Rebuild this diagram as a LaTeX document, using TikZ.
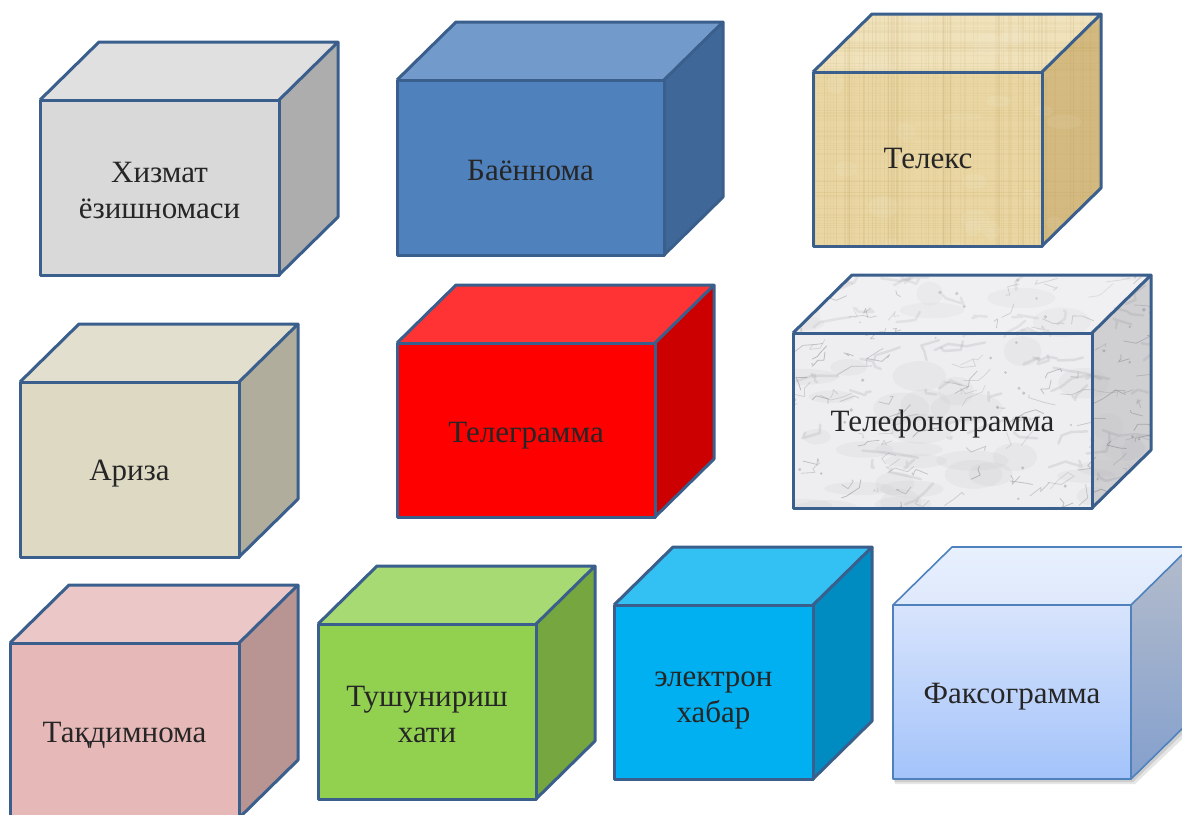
\documentclass[tikz,border=0pt]{standalone}
\usepackage{fontspec}
\setmainfont{Liberation Serif}
\usetikzlibrary{calc}

\definecolor{edge}{HTML}{3A5F8C}
\definecolor{edgelight}{HTML}{4F81BD}
\definecolor{txt}{HTML}{262626}

\tikzset{
  edgeline/.style={draw=edge, line width=3pt, line join=round},
  lbl/.style={font=\fontsize{31}{36}\selectfont, text=txt, align=center,
              anchor=base, inner sep=0pt},
}

% faces of a box: #1 name, #2 left, #3 top, #4 right, #5 bottom,
% #6 front options, #7 top options, #8 side options
\newcommand\cubefaces[8]{%
  \coordinate (#1-a) at (#2,#3);
  \coordinate (#1-b) at (#4,#3);
  \coordinate (#1-c) at (#4,#5);
  \coordinate (#1-d) at (#2,#5);
  \coordinate (#1-e) at ($(#1-a)+(59,-58)$);
  \coordinate (#1-f) at ($(#1-b)+(59,-58)$);
  \coordinate (#1-g) at ($(#1-c)+(59,-58)$);
  \path[#6] (#1-a) rectangle (#1-c);
  \path[#7] (#1-a) -- (#1-e) -- (#1-f) -- (#1-b) -- cycle;
  \path[#8] (#1-b) -- (#1-f) -- (#1-g) -- (#1-c) -- cycle;
}
% outline of a box: #1 name, #2 line options
\newcommand\cubeedges[2]{%
  \draw[#2] (#1-a) rectangle (#1-c);
  \draw[#2] (#1-a) -- (#1-e) -- (#1-f) -- (#1-b);
  \draw[#2] (#1-f) -- (#1-g) -- (#1-c);
}

\begin{document}
\begin{tikzpicture}[x=1pt, y=-1pt]
\useasboundingbox (0,0) rectangle (1182,814);
\fill[white] (0,0) rectangle (1182,814);
\clip (0,0) rectangle (1182,814);

% Хизмат ёзишномаси
\cubefaces{c1}{40}{100}{279}{275}{fill={rgb,255:red,217;green,217;blue,217}}
  {fill={rgb,255:red,224;green,224;blue,224}}{fill={rgb,255:red,173;green,173;blue,173}}
\cubeedges{c1}{edgeline}
\node[lbl] (t1) at (159.5,218) {Хизмат\\ёзишномаси};

% Баённома
\cubefaces{c2}{397}{80}{664}{255}{fill={rgb,255:red,79;green,129;blue,189}}
  {fill={rgb,255:red,114;green,154;blue,203}}{fill={rgb,255:red,63;green,103;blue,152}}
\cubeedges{c2}{edgeline}
\node[lbl] (t2) at (530.5,180) {Баённома};

% Телекс (papyrus)
\cubefaces{c3}{813}{72}{1042}{246}{fill={rgb,255:red,233;green,214;blue,163}}
  {fill={rgb,255:red,238;green,222;blue,178}}{fill={rgb,255:red,214;green,192;blue,135}}
\begin{scope}
  \clip (c3-a) -- (c3-e) -- (c3-f) -- (c3-g) -- (c3-c) -- (c3-d) -- cycle;
  \pgfmathsetseed{7}
  \foreach \i in {1,...,120}{
    \pgfmathsetmacro\xa{813+rnd*290}
    \pgfmathsetmacro\wa{0.3+rnd*1.5}
    \pgfmathsetmacro\oa{0.04+rnd*0.09}
    \draw[color={rgb,255:red,190;green,160;blue,90}, opacity=\oa, line width=\wa pt]
      (\xa,10) -- (\xa,250);
  }
  \foreach \i in {1,...,90}{
    \pgfmathsetmacro\ya{12+rnd*236}
    \pgfmathsetmacro\wa{0.3+rnd*1.2}
    \pgfmathsetmacro\oa{0.04+rnd*0.08}
    \draw[color={rgb,255:red,200;green,170;blue,100}, opacity=\oa, line width=\wa pt]
      (810,\ya) -- (1105,\ya);
  }
  \foreach \i in {1,...,25}{
    \pgfmathsetmacro\xa{813+rnd*290}
    \pgfmathsetmacro\ya{12+rnd*236}
    \fill[white, opacity=0.08] (\xa,\ya) ellipse (6+rnd*14 and 3+rnd*8);
  }
  \fill[white, opacity=0.12] (c3-a) -- (c3-e) -- (c3-f) -- (c3-b) -- cycle;
  \fill[brown, opacity=0.08] (c3-b) -- (c3-f) -- (c3-g) -- (c3-c) -- cycle;
\end{scope}
\cubeedges{c3}{edgeline}
\node[lbl] (t3) at (928,168) {Телекс};

% Ариза
\cubefaces{c4}{20}{382}{239}{557}{fill={rgb,255:red,221;green,217;blue,195}}
  {fill={rgb,255:red,226;green,223;blue,207}}{fill={rgb,255:red,176;green,173;blue,156}}
\cubeedges{c4}{edgeline}
\node[lbl] (t4) at (129.5,480) {Ариза};

% Телеграмма
\cubefaces{c5}{397}{343}{655}{517}{fill={rgb,255:red,255;green,0;blue,0}}
  {fill={rgb,255:red,255;green,51;blue,51}}{fill={rgb,255:red,204;green,0;blue,0}}
\cubeedges{c5}{edgeline}
\node[lbl] (t5) at (526,442) {Телеграмма};

% Телефонограмма (marble)
\cubefaces{c6}{793}{333}{1092}{508}{fill={rgb,255:red,238;green,238;blue,240}}
  {fill={rgb,255:red,238;green,238;blue,240}}{fill={rgb,255:red,222;green,222;blue,225}}
\begin{scope}
  \clip (c6-a) -- (c6-e) -- (c6-f) -- (c6-g) -- (c6-c) -- (c6-d) -- cycle;
  \pgfmathsetseed{12}
  % soft grey clouds
  \foreach \i in {1,...,40}{
    \pgfmathsetmacro\xa{790+rnd*365}
    \pgfmathsetmacro\ya{272+rnd*240}
    \fill[color={rgb,255:red,200;green,200;blue,205}, opacity=0.18]
      (\xa,\ya) ellipse (12+rnd*25 and 6+rnd*10);
  }
  % broad faint veins
  \foreach \i in {1,...,70}{
    \pgfmathsetmacro\xa{790+rnd*365}
    \pgfmathsetmacro\ya{272+rnd*240}
    \draw[color={rgb,255:red,160;green,160;blue,168}, opacity=0.22, line width=2.5pt,
          line join=round, line cap=round]
      (\xa,\ya) -- ++({-4+rnd*24},{-10+rnd*16}) -- ++({-4+rnd*24},{-10+rnd*16})
      -- ++({-4+rnd*24},{-10+rnd*16});
  }
  % fine dark veins
  \foreach \i in {1,...,110}{
    \pgfmathsetmacro\xa{790+rnd*365}
    \pgfmathsetmacro\ya{272+rnd*240}
    \pgfmathsetmacro\oa{0.2+rnd*0.3}
    \draw[color={rgb,255:red,130;green,130;blue,138}, opacity=\oa, line width=0.8pt,
          line join=round, line cap=round]
      (\xa,\ya) -- ++({-4+rnd*20},{-9+rnd*14}) -- ++({-4+rnd*20},{-9+rnd*14})
      -- ++({-4+rnd*16},{-9+rnd*14});
  }
  \foreach \i in {1,...,40}{
    \pgfmathsetmacro\xa{790+rnd*365}
    \pgfmathsetmacro\ya{272+rnd*240}
    \fill[color={rgb,255:red,120;green,120;blue,128}, opacity=0.35]
      (\xa,\ya) circle (0.8+rnd*1.2);
  }
  \fill[white, opacity=0.15] (c6-a) -- (c6-e) -- (c6-f) -- (c6-b) -- cycle;
  \fill[black, opacity=0.06] (c6-b) -- (c6-f) -- (c6-g) -- (c6-c) -- cycle;
\end{scope}
\cubeedges{c6}{edgeline}
\node[lbl] (t6) at (942.5,431) {Телефонограмма};

% Тақдимнома
\cubefaces{c7}{10}{643}{239}{818}{fill={rgb,255:red,230;green,185;blue,184}}
  {fill={rgb,255:red,235;green,200;blue,199}}{fill={rgb,255:red,184;green,148;blue,147}}
\cubeedges{c7}{edgeline}
\node[lbl] (t7) at (124.5,742) {Тақдимнома};

% Тушунириш хати
\cubefaces{c8}{318}{624}{536}{799}{fill={rgb,255:red,146;green,208;blue,80}}
  {fill={rgb,255:red,168;green,218;blue,115}}{fill={rgb,255:red,117;green,166;blue,64}}
\cubeedges{c8}{edgeline}
\node[lbl] (t8) at (427,742) {Тушунириш\\хати};

% электрон хабар
\cubefaces{c9}{614}{605}{813}{779}{fill={rgb,255:red,0;green,176;blue,240}}
  {fill={rgb,255:red,51;green,192;blue,243}}{fill={rgb,255:red,0;green,140;blue,192}}
\cubeedges{c9}{edgeline}
\node[lbl] (t9) at (713.5,722) {электрон\\хабар};

% Факсограмма (gradient, soft shadow)
\fill[black, opacity=0.10] (895,609) -- (1135,609) -- (1196,551) -- (1196,726) -- (1135,784) -- (895,784) -- cycle;
\fill[black, opacity=0.10] (894,607) -- (1133,607) -- (1193,549) -- (1193,724) -- (1133,782) -- (894,782) -- cycle;
\cubefaces{c10}{893}{605}{1131}{779}
  {top color={rgb,255:red,216;green,228;blue,252}, bottom color={rgb,255:red,163;green,195;blue,250}}
  {top color={rgb,255:red,232;green,240;blue,253}, bottom color={rgb,255:red,222;green,233;blue,252}}
  {top color={rgb,255:red,180;green,188;blue,204}, bottom color={rgb,255:red,132;green,160;blue,205}}
\cubeedges{c10}{draw=edgelight, line width=1.6pt, line join=round}
\node[lbl] (t10) at (1012,703) {Факсограмма};

\end{tikzpicture}
\end{document}
